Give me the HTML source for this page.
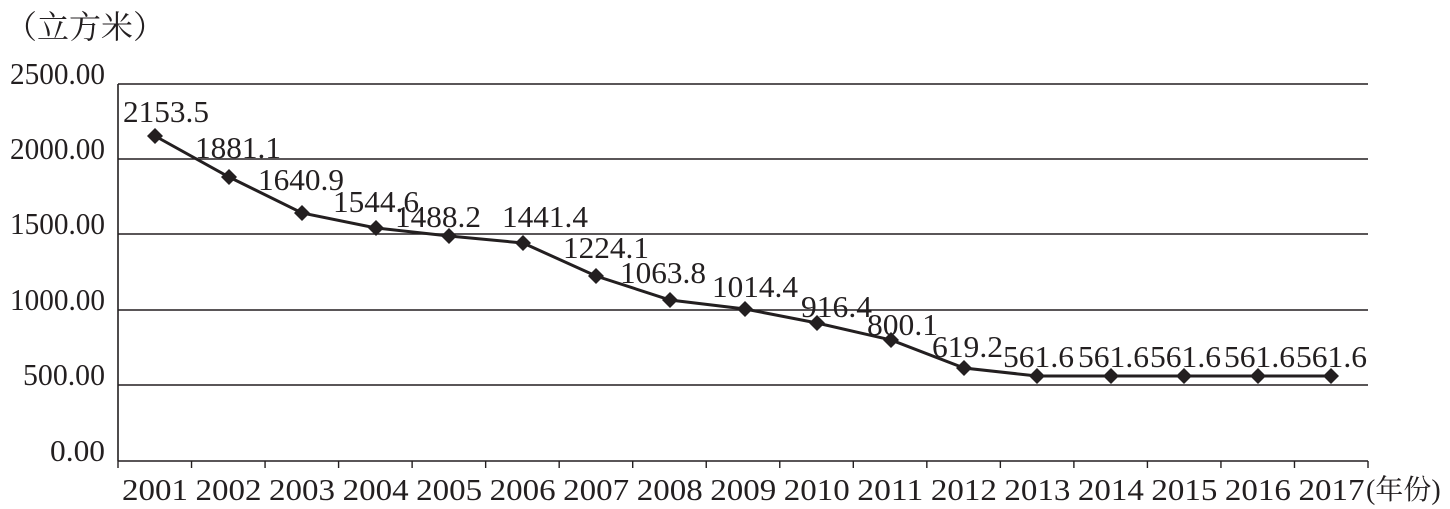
<!DOCTYPE html>
<html><head><meta charset="utf-8"><style>
html,body{margin:0;padding:0;background:#fff;}
svg{display:block;}
text{font-family:"Liberation Serif","Noto Serif CJK SC",serif;fill:#231f20;}
</style></head><body>
<svg width="1450" height="509" viewBox="0 0 1450 509" xmlns="http://www.w3.org/2000/svg">
<text x="5" y="38" font-size="32" font-family="Liberation Serif, Noto Serif CJK SC, serif">（立方米）</text>
<g stroke="#231f20" stroke-width="1.6">
<line x1="118" y1="84" x2="1368" y2="84"/>
<line x1="118" y1="159" x2="1368" y2="159"/>
<line x1="118" y1="234" x2="1368" y2="234"/>
<line x1="118" y1="310" x2="1368" y2="310"/>
<line x1="118" y1="385" x2="1368" y2="385"/>
<line x1="118" y1="461" x2="1368" y2="461"/>
<line x1="118" y1="84" x2="118" y2="461"/>
</g>
<g stroke="#231f20" stroke-width="1.4" id="ticks"></g>
<g font-size="31" text-anchor="end">
<text x="105" y="84" textLength="95" lengthAdjust="spacingAndGlyphs">2500.00</text>
<text x="105" y="159" textLength="95" lengthAdjust="spacingAndGlyphs">2000.00</text>
<text x="105" y="234" textLength="95" lengthAdjust="spacingAndGlyphs">1500.00</text>
<text x="105" y="310" textLength="95" lengthAdjust="spacingAndGlyphs">1000.00</text>
<text x="105" y="385" textLength="82" lengthAdjust="spacingAndGlyphs">500.00</text>
<text x="105" y="461" textLength="55" lengthAdjust="spacingAndGlyphs">0.00</text>
</g>
<polyline fill="none" stroke="#231f20" stroke-width="3" points="155,136 229,177 302,213 376,228 449,236 523,243 596,276 670,300 745,309 817,323 891,340 964,368 1037,376 1111,376 1184,376 1258,376 1331,376"/>
<g fill="#231f20" id="pts"></g>
<g font-size="31" id="lbl"></g>
<g font-size="31" text-anchor="middle" id="yrs"></g>
<text x="1366" y="499" font-size="28" font-family="Liberation Serif, Noto Serif CJK SC, serif">(年份)</text>
<script>
var ns="http://www.w3.org/2000/svg";
function el(t,a,p,txt){var e=document.createElementNS(ns,t);for(var k in a)e.setAttribute(k,a[k]);if(txt)e.textContent=txt;document.getElementById(p).appendChild(e);}
for(var i=0;i<=17;i++){var x=118+i*73.53;el("line",{x1:x,y1:461,x2:x,y2:468},"ticks");}
var pts=[[155,136],[229,177],[302,213],[376,228],[449,236],[523,243],[596,276],[670,300],[745,309],[817,323],[891,340],[964,368],[1037,376],[1111,376],[1184,376],[1258,376],[1331,376]];
pts.forEach(function(p){el("path",{d:"M"+p[0]+" "+(p[1]-8)+"L"+(p[0]+8)+" "+p[1]+"L"+p[0]+" "+(p[1]+8)+"L"+(p[0]-8)+" "+p[1]+"Z"},"pts");});
var L=[["2153.5",123,122],["1881.1",195,158],["1640.9",258,190],["1544.6",333,212],["1488.2",395,227],["1441.4",502,227],["1224.1",563,258],["1063.8",620,283],["1014.4",712,297],["916.4",801,317],["800.1",867,335],["619.2",932,357],["561.6",1003,367],["561.6",1078,367],["561.6",1150,367],["561.6",1224,367],["561.6",1296,367]];
L.forEach(function(l){el("text",{x:l[1],y:l[2],textLength:l[0].length==6?86:71,lengthAdjust:"spacingAndGlyphs"},"lbl",l[0]);});
for(var i=0;i<17;i++){el("text",{x:155+i*73.53,y:500,textLength:66,lengthAdjust:"spacingAndGlyphs"},"yrs",String(2001+i));}
</script>
</svg>
</body></html>
